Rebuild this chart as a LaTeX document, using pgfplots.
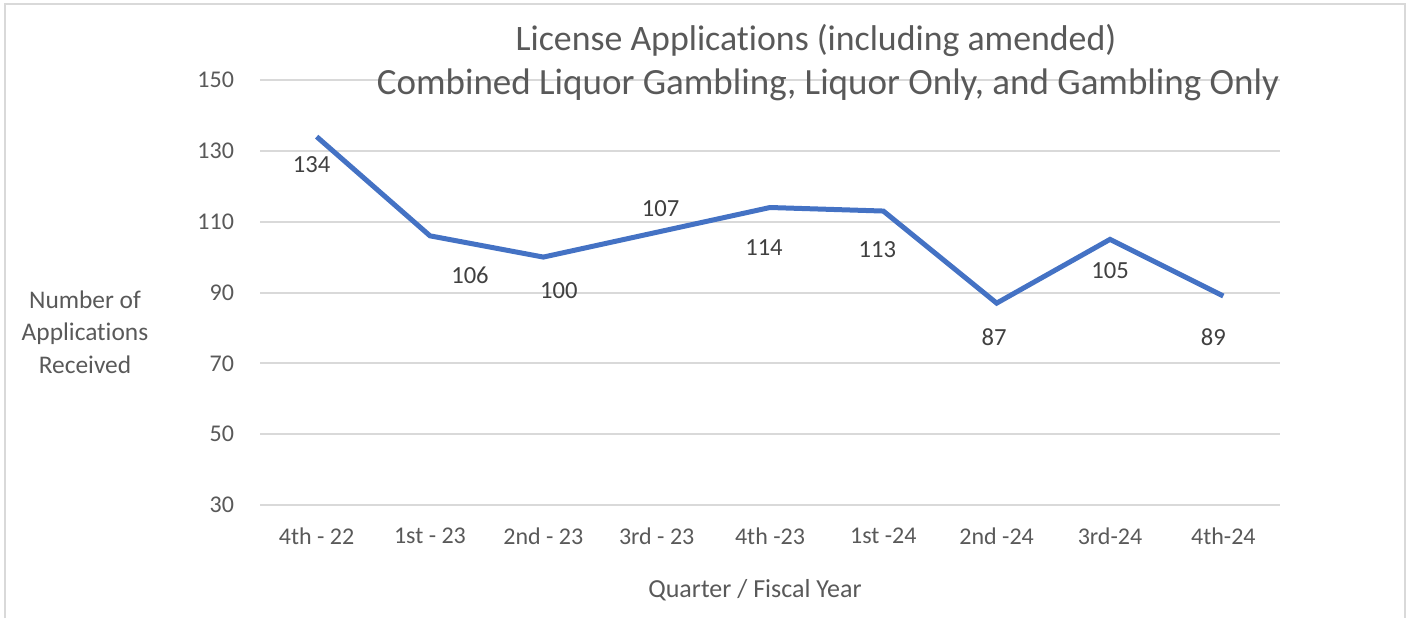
\documentclass[border=0pt]{standalone}
\usepackage{pgfplots}
\pgfplotsset{compat=1.18}
\usepackage{pgfplotstable}
\usepackage{fontspec}
\setmainfont{Carlito}[Ligatures=NoCommon]
\definecolor{lineblue}{HTML}{4472C4}
\definecolor{gridgray}{HTML}{D9D9D9}
\definecolor{txtgray}{HTML}{595959}
\definecolor{lblgray}{HTML}{404040}
\pgfplotstableread{
x y dx dy
0 134 -2.5 -14
1 106 20 -19.5
2 100 7.75 -17
3 107 2 12
4 114 -3 -20
5 113 -3 -19.5
6 87 -1.25 -17
7 105 0 -15.5
8 89 -5 -20.5
}\datatable
\begin{document}
\begin{tikzpicture}
\useasboundingbox (0,0) rectangle (704.5pt,309pt);
\draw[gridgray, line width=0.8pt] (2.5pt,0) -- (2.5pt,307pt) -- (702.5pt,307pt) -- (702.5pt,0);
\begin{axis}[
  at={(130pt,56.5pt)}, anchor=south west,
  scale only axis, width=510pt, height=212.5pt,
  xmin=-0.5, xmax=8.5, ymin=30, ymax=150,
  xtick=data,
  xticklabels={4th - 22,1st - 23,2nd - 23,3rd - 23,4th -23,1st -24,2nd -24,3rd-24,4th-24},
  ytick={30,50,70,90,110,130,150},
  ymajorgrids, grid style={gridgray, line width=1pt},
  axis line style={draw=none},
  major tick length=0pt,
  tick label style={font=\fontsize{12}{13}\selectfont, text=txtgray},
  /pgf/number format/assume math mode=true,
  xticklabel style={yshift=-8pt},
  yticklabel style={xshift=-9.5pt},
  clip=false,
]
\addplot[lineblue, line width=2.5pt, mark=none,
  nodes near coords,
  visualization depends on={\thisrow{dx} \as \dx},
  visualization depends on={\thisrow{dy} \as \dy},
  every node near coord/.append style={anchor=center, xshift=\dx pt, yshift=\dy pt, font=\fontsize{12.3}{14}\selectfont, text=lblgray},
] table[x=x, y=y] {\datatable};
\end{axis}
\node[text=txtgray, font=\fontsize{17.9}{20}\selectfont] at (408pt,289pt) {License Applications (including amended)};
\node[text=txtgray, font=\fontsize{18.5}{20}\selectfont] at (414pt,266.5pt) {Combined Liquor Gambling, Liquor Only, and Gambling Only};
\node[text=txtgray, font=\fontsize{12.7}{16.25}\selectfont, align=center] at (42.5pt,143pt) {Number of\\Applications\\Received};
\node[text=txtgray, font=\fontsize{13}{14}\selectfont] at (377.5pt,14pt) {Quarter / Fiscal Year};
\end{tikzpicture}
\end{document}
